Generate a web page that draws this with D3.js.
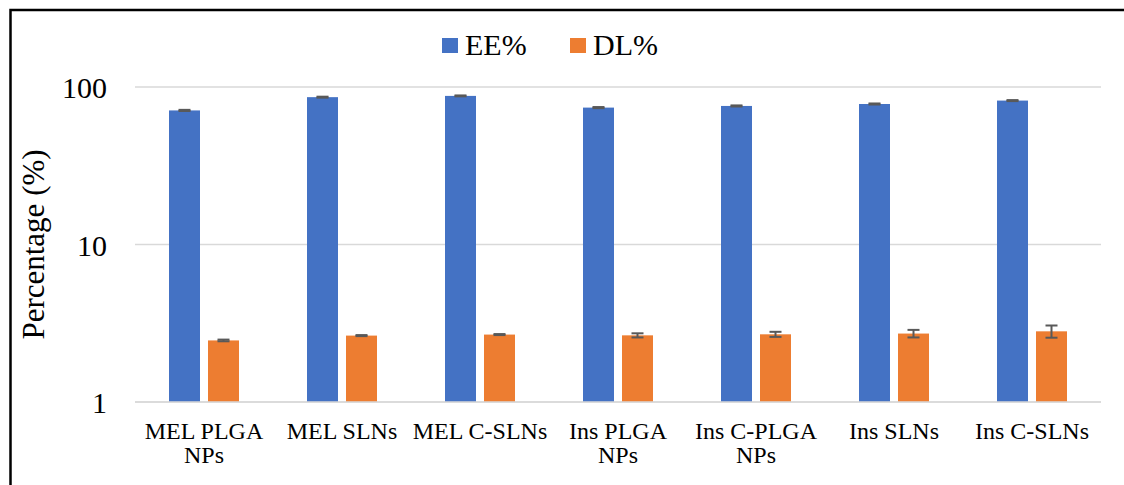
<!DOCTYPE html>
<html>
<head>
<meta charset="utf-8">
<script src="https://cdn.jsdelivr.net/npm/d3@7"></script>
<style>
  html, body { margin: 0; padding: 0; background: #fff; }
  svg { display: block; }
  svg text { font-family: "Liberation Serif", "Times New Roman", serif; }
</style>
</head>
<body>
<svg id="chart" width="1124" height="485"></svg>
<script>
// Formulation groups
const categories = ["MEL PLGA NPs", "MEL SLNs", "MEL C-SLNs", "Ins PLGA NPs", "Ins C-PLGA NPs", "Ins SLNs", "Ins C-SLNs"];
const seriesNames = ["EE%", "DL%"];
// Entrapment efficiency (%) and its error
const eeValues = [71.0, 86.2, 87.8, 74.0, 75.8, 78.0, 82.0];
const eeErrors = [0.6, 0.6, 0.6, 0.6, 0.6, 0.6, 0.6];
// Drug loading (%) and its error
const dlValues = [2.46, 2.64, 2.68, 2.65, 2.69, 2.72, 2.81];
const dlErrors = [0.03, 0.02, 0.02, 0.08, 0.10, 0.15, 0.25];
const yTicks = [1, 10, 100];
const colors = ["#4472C4", "#ED7D31"];

const FONT = "'Liberation Serif', 'Times New Roman', serif";
const svg = d3.select("#chart");
const W = 1124, H = 485;
const margin = { left: 135, right: 23, top: 87, bottom: 83 };
const plotW = W - margin.left - margin.right;
const plotH = H - margin.top - margin.bottom;

// Outer frame (left and top edges fall inside the view)
svg.append("rect")
  .attr("x", 10.5).attr("y", 10)
  .attr("width", W + 20).attr("height", H + 20)
  .attr("fill", "#fff")
  .attr("stroke", "#000").attr("stroke-width", 2.5);

const g = svg.append("g").attr("transform", `translate(${margin.left},${margin.top})`);

const x0 = d3.scaleBand().domain(categories).range([0, plotW]).paddingInner(0).paddingOuter(0);
const barW = 31, barGap = 8;
const x1 = d3.scaleOrdinal().domain(seriesNames)
  .range([x0.bandwidth() / 2 - barGap / 2 - barW, x0.bandwidth() / 2 + barGap / 2]);
const y = d3.scaleLog().domain([1, 100]).range([plotH, 0]);

// Gridlines
g.append("g")
  .selectAll("line")
  .data(yTicks)
  .join("line")
  .attr("x1", 0).attr("x2", plotW)
  .attr("y1", d => y(d)).attr("y2", d => y(d))
  .attr("stroke", "#d9d9d9").attr("stroke-width", 1.5);

// Y axis labels
const yAxis = d3.axisLeft(y).tickValues(yTicks).tickFormat(d3.format("d")).tickSize(0).tickPadding(28);
const ya = g.append("g").call(yAxis);
ya.attr("font-family", null);
ya.select(".domain").remove();
ya.selectAll("text")
  .style("font-family", FONT)
  .attr("font-size", 30).attr("fill", "#000").attr("dy", "0.35em");

// Bars
const series = [
  { name: seriesNames[0], values: eeValues, errors: eeErrors, color: colors[0] },
  { name: seriesNames[1], values: dlValues, errors: dlErrors, color: colors[1] }
];
const bars = [];
series.forEach(s => categories.forEach((c, i) => bars.push({ cat: c, name: s.name, v: s.values[i], e: s.errors[i], color: s.color })));

g.append("g").selectAll("rect")
  .data(bars)
  .join("rect")
  .attr("x", d => x0(d.cat) + x1(d.name))
  .attr("width", barW)
  .attr("y", d => y(d.v))
  .attr("height", d => plotH - y(d.v))
  .attr("fill", d => d.color);

// Error bars
const eb = g.append("g").attr("stroke", "#595959").attr("stroke-width", 2);
bars.forEach(d => {
  const cx = x0(d.cat) + x1(d.name) + barW / 2;
  const yt = y(d.v + d.e), yb = y(d.v - d.e);
  eb.append("line").attr("x1", cx).attr("x2", cx).attr("y1", yt).attr("y2", yb);
  eb.append("line").attr("x1", cx - 6).attr("x2", cx + 6).attr("y1", yt).attr("y2", yt);
  eb.append("line").attr("x1", cx - 6).attr("x2", cx + 6).attr("y1", yb).attr("y2", yb);
});

// X axis baseline
g.append("line").attr("x1", 0).attr("x2", plotW).attr("y1", plotH).attr("y2", plotH)
  .attr("stroke", "#d9d9d9").attr("stroke-width", 1.5);

// X axis category labels with word wrapping
const xa = g.append("g")
  .attr("transform", `translate(0,${plotH})`)
  .call(d3.axisBottom(x0).tickSize(0).tickPadding(20));
xa.attr("font-family", null);
xa.select(".domain").remove();
xa.selectAll("text")
  .style("font-family", FONT)
  .attr("font-size", 24).attr("fill", "#000")
  .each(function (d) {
    const t = d3.select(this);
    const words = d.split(" ");
    t.text(null);
    const lines = [];
    let cur = [];
    const probe = t.append("tspan");
    words.forEach(w => {
      const test = cur.concat(w).join(" ");
      probe.text(test);
      if (probe.node().getComputedTextLength() > 140 && cur.length) {
        lines.push(cur.join(" "));
        cur = [w];
      } else cur.push(w);
    });
    lines.push(cur.join(" "));
    probe.remove();
    lines.forEach((ln, i) => t.append("tspan").attr("x", 0).attr("dy", i === 0 ? "0.71em" : 24).text(ln));
  });

// Y axis title
svg.append("text")
  .attr("transform", `translate(44,${margin.top + plotH / 2}) rotate(-90)`)
  .attr("text-anchor", "middle")
  .style("font-family", FONT)
  .attr("font-size", 31).attr("fill", "#000")
  .text("Percentage (%)");

// Legend
const legend = svg.append("g").attr("transform", "translate(442,38)");
const legendX = [0, 128];
series.forEach((s, i) => {
  const lg = legend.append("g").attr("transform", `translate(${legendX[i]},0)`);
  lg.append("rect").attr("width", 16).attr("height", 15).attr("fill", s.color);
  lg.append("text").attr("x", 23).attr("y", 17)
    .style("font-family", FONT)
    .attr("font-size", 30).attr("fill", "#000").text(s.name);
});
</script>
</body>
</html>
